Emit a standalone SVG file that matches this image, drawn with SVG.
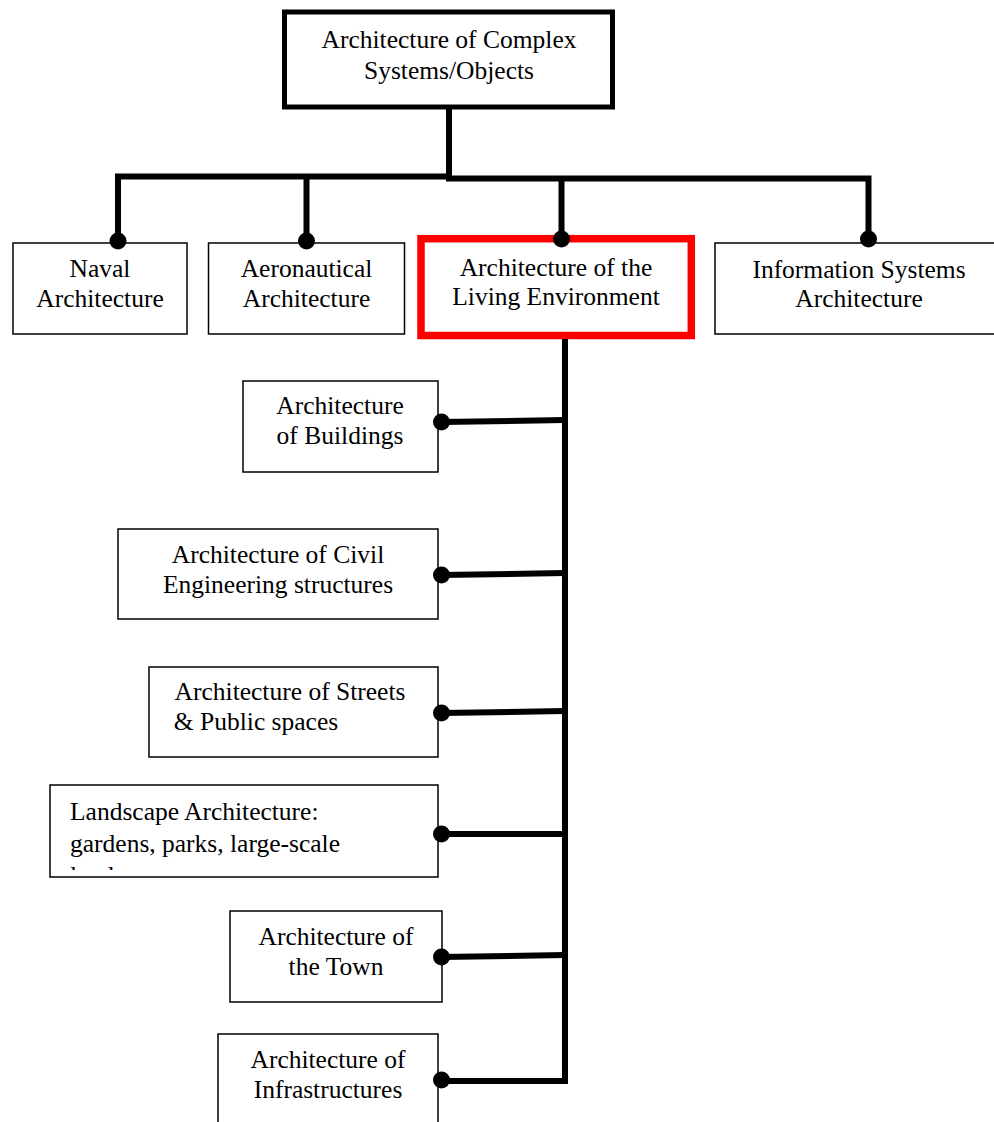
<svg xmlns="http://www.w3.org/2000/svg" width="994" height="1122" viewBox="0 0 994 1122">
<style>
.box{fill:#fff;stroke:#000;stroke-width:1.5}
.t{font-family:"Liberation Serif","Times New Roman",serif;font-size:25.5px;fill:#000;text-anchor:middle}
.l{text-anchor:start}
.c{fill:none;stroke:#000;stroke-width:6;stroke-linecap:butt;stroke-linejoin:miter}
.d{fill:#000}
</style>
<defs>
<clipPath id="clipLand"><rect x="51" y="786" width="387" height="84"/></clipPath>
</defs>
<g id="root">
<rect x="284.5" y="12" width="328" height="95" fill="#fff" stroke="#000" stroke-width="5"/>
<text class="t" x="449" y="48">Architecture of Complex</text>
<text class="t" x="449" y="79">Systems/Objects</text>
</g>
<g id="naval">
<rect class="box" x="13" y="243" width="174" height="91"/>
<text class="t" x="100" y="277">Naval</text>
<text class="t" x="100" y="307">Architecture</text>
</g>
<g id="aero">
<rect class="box" x="208.5" y="243" width="196" height="91"/>
<text class="t" x="306.5" y="277">Aeronautical</text>
<text class="t" x="306.5" y="307">Architecture</text>
</g>
<g id="living">
<rect x="421" y="238.7" width="270.3" height="96.8" fill="#fff" stroke="#ff0000" stroke-width="7.5"/>
<text class="t" x="556" y="276">Architecture of the</text>
<text class="t" x="556" y="305">Living Environment</text>
</g>
<g id="info">
<rect class="box" x="715" y="243" width="285" height="91"/>
<text class="t" x="859" y="278">Information Systems</text>
<text class="t" x="859" y="307">Architecture</text>
</g>
<g id="buildings">
<rect class="box" x="243" y="381" width="195" height="91"/>
<text class="t" x="340" y="414">Architecture</text>
<text class="t" x="340" y="444">of Buildings</text>
</g>
<g id="civil">
<rect class="box" x="118" y="529" width="320" height="90"/>
<text class="t" x="278" y="563">Architecture of Civil</text>
<text class="t" x="278" y="593">Engineering structures</text>
</g>
<g id="streets">
<rect class="box" x="149" y="667" width="289" height="90"/>
<text class="t" x="290" y="700">Architecture of Streets</text>
<text class="t" x="256" y="730">&amp; Public spaces</text>
</g>
<g id="landscape">
<rect class="box" x="50" y="785" width="388" height="92"/>
<g clip-path="url(#clipLand)">
<text class="t l" x="70" y="820">Landscape Architecture:</text>
<text class="t l" x="70" y="852">gardens, parks, large-scale</text>
<text class="t l" x="70" y="884">landscapes</text>
</g>
</g>
<g id="town">
<rect class="box" x="230" y="911" width="212" height="91"/>
<text class="t" x="336" y="945">Architecture of</text>
<text class="t" x="336" y="975">the Town</text>
</g>
<g id="infra">
<rect class="box" x="218" y="1034" width="220" height="100"/>
<text class="t" x="328" y="1068">Architecture of</text>
<text class="t" x="328" y="1098">Infrastructures</text>
</g>
<g id="connectors">
<path class="c" d="M449 109 V177"/>
<path class="c" d="M118 241 V176.5 H449"/>
<path class="c" d="M306.5 241 V176.5"/>
<path class="c" d="M446 178.5 H868.5 V239"/>
<path class="c" d="M561.5 239 V178.5"/>
<path class="c" d="M565 339 V1081 H441"/>
<path class="c" d="M441 422 L565 420"/>
<path class="c" d="M441 575 L565 573"/>
<path class="c" d="M441 713 L565 711"/>
<path class="c" d="M441 834 L565 834"/>
<path class="c" d="M441 957 L565 955"/>
<circle class="d" cx="118" cy="241" r="8.5"/>
<circle class="d" cx="306.5" cy="241" r="8.5"/>
<circle class="d" cx="561.5" cy="239" r="8.5"/>
<circle class="d" cx="868.5" cy="239" r="8.5"/>
<circle class="d" cx="441.5" cy="422" r="8.5"/>
<circle class="d" cx="441.5" cy="575" r="8.5"/>
<circle class="d" cx="441.5" cy="713" r="8.5"/>
<circle class="d" cx="441.5" cy="834" r="8.5"/>
<circle class="d" cx="441.5" cy="957" r="8.5"/>
<circle class="d" cx="441.5" cy="1080" r="8.5"/>
</g>
</svg>
